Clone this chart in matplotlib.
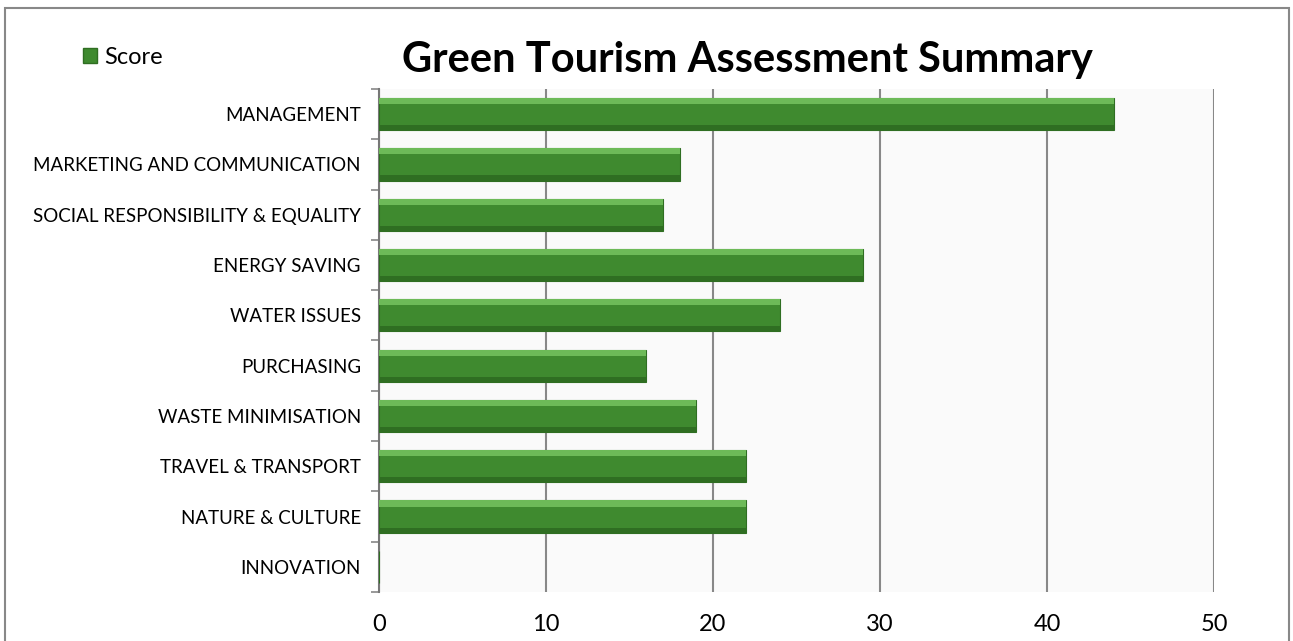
import matplotlib.pyplot as plt
from matplotlib.patches import Rectangle, Patch

categories = ["MANAGEMENT", "MARKETING AND COMMUNICATION", "SOCIAL RESPONSIBILITY & EQUALITY",
              "ENERGY SAVING", "WATER ISSUES", "PURCHASING", "WASTE MINIMISATION",
              "TRAVEL & TRANSPORT", "NATURE & CULTURE", "INNOVATION"]
scores = [44, 18, 17, 29, 24, 16, 19, 22, 22, 0]
x_ticks = [0, 10, 20, 30, 40, 50]

plt.rcParams['font.family'] = ['Lato', 'DejaVu Sans']

green = "#3F8A2F"
green_light = "#6DBA58"
green_dark = "#2F6E22"

fig = plt.figure(figsize=(12.93, 6.41), dpi=100)
ax = fig.add_axes([0.2931, 0.0764, 0.6458, 0.7848])
ax.set_facecolor("#FAFAFA")

pos = list(range(len(categories)))
h = 0.64
ax.barh(pos, scores, height=h, color=green, edgecolor=green_dark, linewidth=0.8, zorder=3)
# light bevel on top, darker one underneath
ax.barh([p - h / 2 + 0.06 for p in pos], scores, height=0.12, color=green_light,
        linewidth=0, zorder=4)
ax.barh([p + h / 2 - 0.05 for p in pos], scores, height=0.1, color=green_dark,
        linewidth=0, zorder=4)

ax.set_xlim(0, 50)
ax.set_ylim(len(categories) - 0.5, -0.5)
ax.set_xticks(x_ticks)
ax.set_xticklabels([str(t) for t in x_ticks], fontsize=17)
ax.tick_params(axis='x', length=0, pad=16)
ax.xaxis.grid(True, color="#888888", linewidth=1.5, zorder=1)

ax.set_yticks(pos)
ax.set_yticklabels(categories, fontsize=13.5)
ax.set_yticks([p + 0.5 for p in range(-1, len(categories))], minor=True)
ax.tick_params(axis='y', which='major', length=0, pad=13)
ax.tick_params(axis='y', which='minor', length=6, color="#888888", width=1.2)

for s in ax.spines.values():
    s.set_color("#888888")
    s.set_linewidth(1.5)
ax.spines['bottom'].set_visible(False)
ax.spines['right'].set_visible(False)
ax.spines['top'].set_visible(False)
ax.spines['left'].set_color("#777777")

fig.text(0.578, 0.907, "Green Tourism Assessment Summary", fontsize=30, fontweight='bold',
         ha='center', va='center')

fig.legend(handles=[Patch(facecolor=green, edgecolor=green_dark)], labels=["Score"],
           loc='center left', bbox_to_anchor=(0.048, 0.91), frameon=False,
           fontsize=17, handlelength=0.6, handleheight=0.6, handletextpad=0.3)

fig.patches.append(Rectangle((0.004, -0.01), 0.993, 0.998, transform=fig.transFigure,
                             fill=False, edgecolor="#888888", linewidth=1.5))

fig.savefig("out.png", dpi=100)
